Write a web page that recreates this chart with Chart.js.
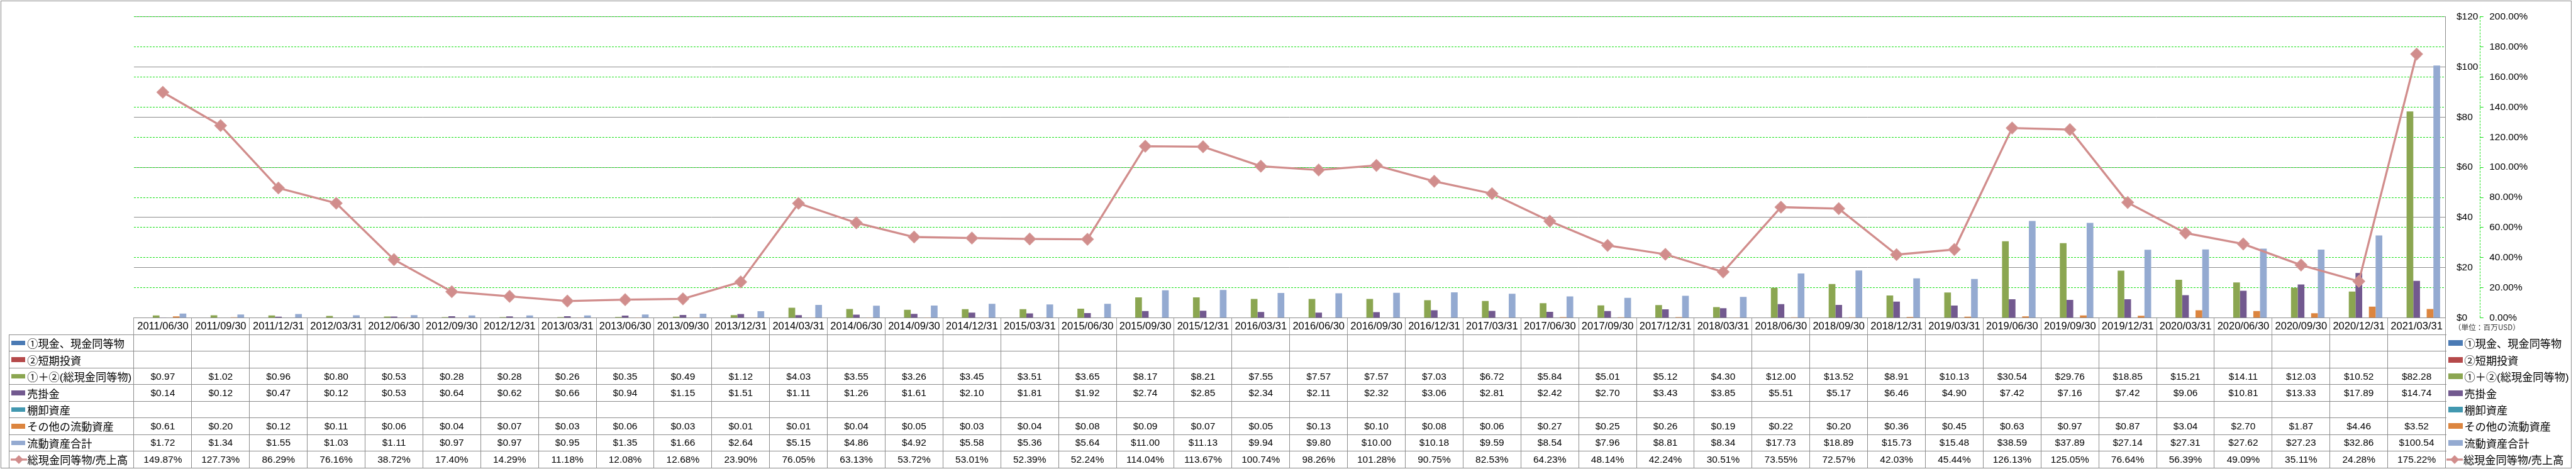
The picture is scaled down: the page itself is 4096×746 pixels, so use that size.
<!DOCTYPE html>
<html><head><meta charset="utf-8">
<script src="https://cdn.jsdelivr.net/npm/chart.js@4.4.0/dist/chart.umd.min.js"></script>
<style>
html,body{margin:0;padding:0;background:#fff;overflow:hidden;}
#wrap{position:relative;width:4096px;height:746px;}
#c{position:absolute;left:0;top:0;}
.ln{position:absolute;background:#8c8c8c;}
.cell{position:absolute;display:flex;align-items:center;justify-content:center;font-family:'Liberation Sans',sans-serif;font-size:15.5px;color:#000;white-space:nowrap;}
.lab{position:absolute;display:flex;align-items:center;font-family:'Liberation Sans','Noto Sans CJK JP',sans-serif;font-size:17.2px;color:#000;white-space:nowrap;}
.sw{display:inline-block;flex:none;}
</style></head><body>
<div id="wrap"><canvas id="c" width="4096" height="746"></canvas><div id="ov"></div></div>
<script>
const categories = ['2011/06/30','2011/09/30','2011/12/31','2012/03/31','2012/06/30','2012/09/30','2012/12/31','2013/03/31','2013/06/30','2013/09/30','2013/12/31','2014/03/31','2014/06/30','2014/09/30','2014/12/31','2015/03/31','2015/06/30','2015/09/30','2015/12/31','2016/03/31','2016/06/30','2016/09/30','2016/12/31','2017/03/31','2017/06/30','2017/09/30','2017/12/31','2018/03/31','2018/06/30','2018/09/30','2018/12/31','2019/03/31','2019/06/30','2019/09/30','2019/12/31','2020/03/31','2020/06/30','2020/09/30','2020/12/31','2021/03/31'];
const cashEq = [null,null,null,null,null,null,null,null,null,null,null,null,null,null,null,null,null,null,null,null,null,null,null,null,null,null,null,null,null,null,null,null,null,null,null,null,null,null,null,null];
const shortInv = [null,null,null,null,null,null,null,null,null,null,null,null,null,null,null,null,null,null,null,null,null,null,null,null,null,null,null,null,null,null,null,null,null,null,null,null,null,null,null,null];
const totalCash = [0.97,1.02,0.96,0.80,0.53,0.28,0.28,0.26,0.35,0.49,1.12,4.03,3.55,3.26,3.45,3.51,3.65,8.17,8.21,7.55,7.57,7.57,7.03,6.72,5.84,5.01,5.12,4.30,12.00,13.52,8.91,10.13,30.54,29.76,18.85,15.21,14.11,12.03,10.52,82.28];
const receivables = [0.14,0.12,0.47,0.12,0.53,0.64,0.62,0.66,0.94,1.15,1.51,1.11,1.26,1.61,2.10,1.81,1.92,2.74,2.85,2.34,2.11,2.32,3.06,2.81,2.42,2.70,3.43,3.85,5.51,5.17,6.46,4.90,7.42,7.16,7.42,9.06,10.81,13.33,17.89,14.74];
const inventory = [null,null,null,null,null,null,null,null,null,null,null,null,null,null,null,null,null,null,null,null,null,null,null,null,null,null,null,null,null,null,null,null,null,null,null,null,null,null,null,null];
const otherCurrent = [0.61,0.20,0.12,0.11,0.06,0.04,0.07,0.03,0.06,0.03,0.01,0.01,0.04,0.05,0.03,0.04,0.08,0.09,0.07,0.05,0.13,0.10,0.08,0.06,0.27,0.25,0.26,0.19,0.22,0.20,0.36,0.45,0.63,0.97,0.87,3.04,2.70,1.87,4.46,3.52];
const currentTotal = [1.72,1.34,1.55,1.03,1.11,0.97,0.97,0.95,1.35,1.66,2.64,5.15,4.86,4.92,5.58,5.36,5.64,11.00,11.13,9.94,9.80,10.00,10.18,9.59,8.54,7.96,8.81,8.34,17.73,18.89,15.73,15.48,38.59,37.89,27.14,27.31,27.62,27.23,32.86,100.54];
const cashToSales = [149.87,127.73,86.29,76.16,38.72,17.40,14.29,11.18,12.08,12.68,23.90,76.05,63.13,53.72,53.01,52.39,52.24,114.04,113.67,100.74,98.26,101.28,90.75,82.53,64.23,48.14,42.24,30.51,73.55,72.57,42.03,45.44,126.13,125.05,76.64,56.39,49.09,35.11,24.28,175.22];
const seriesNames = ['①現金、現金同等物','②短期投資','①＋②(総現金同等物)','売掛金','棚卸資産','その他の流動資産','流動資産合計','総現金同等物/売上高'];
const seriesColors = ['#4a7ab4','#b5494a','#8ba651','#72598f','#4298b0','#dc853f','#94aad1','#d18d8c'];
const dollarTicks = [0,20,40,60,80,100,120];
const pctTicks = [0,20,40,60,80,100,120,140,160,180,200];
const unitLabel = '（単位：百万USD）';

const S = 0.696;
const L = 306*S, R = 5587*S, T = 15*S, B = 726.5*S, ROW0 = 765*S, BOT = 1069*S, TL = 21*S;
const Y1X = 5665*S;
const yW = Y1X - R, y1W = 120;
const padRight = 4096 - R - yW - y1W;
const dateH = ROW0 - B;
const GREEN = '#14e014', GRAY = '#8c8c8c';

const barSeries = [cashEq, shortInv, totalCash, receivables, inventory, otherCurrent, currentTotal];
const datasets = [{
  type:'line', label:seriesNames[7], data:cashToSales, yAxisID:'y1', order:0,
  borderColor:seriesColors[7], backgroundColor:seriesColors[7], borderWidth:3.3,
  pointStyle:'rectRot', pointRadius:9.5, pointHoverRadius:9.5, pointBorderWidth:1.2,
  pointBackgroundColor:seriesColors[7], pointBorderColor:'#d49896', tension:0
}];
barSeries.forEach((d,i)=>datasets.push({
  type:'bar', label:seriesNames[i], data:d, yAxisID:'y', order:1,
  backgroundColor:seriesColors[i], borderWidth:0,
  categoryPercentage:0.812, barPercentage:1.0
}));

const y1Line = {id:'y1line', afterDraw(chart){
  const s = chart.scales.y1, ctx = chart.ctx;
  ctx.save(); ctx.strokeStyle = GREEN; ctx.lineWidth = 1; ctx.setLineDash([3,2]);
  const x = Math.round(s.left)+0.5;
  ctx.beginPath(); ctx.moveTo(x, s.top); ctx.lineTo(x, s.bottom); ctx.stroke(); ctx.restore();
}};

Chart.defaults.font.family = "'Liberation Sans', sans-serif";
const chart = new Chart(document.getElementById('c'), {
  data:{labels:categories, datasets},
  plugins:[y1Line],
  options:{
    responsive:false, animation:false, devicePixelRatio:1,
    layout:{padding:{left:L, top:T, right:padRight, bottom:746-ROW0}},
    plugins:{legend:{display:false}, tooltip:{enabled:false}},
    scales:{
      x:{type:'category', offset:true,
        grid:{offset:true, drawOnChartArea:false, drawTicks:true, tickLength:dateH, color:'#9a9a9a', lineWidth:1},
        border:{display:true, color:GRAY},
        ticks:{autoSkip:false, maxRotation:0, minRotation:0, color:'#000', font:{size:16.5}, padding:-dateH/2-9.9},
        afterFit:(s)=>{s.height = dateH;}
      },
      y:{position:'right', min:0, max:120,
        afterBuildTicks:(s)=>{s.ticks = dollarTicks.map(v=>({value:v}));},
        ticks:{callback:v=>'$'+v, padding:5612*S-R, color:'#000', font:{size:15.5}, crossAlign:'near'},
        grid:{color:GRAY, lineWidth:1, drawTicks:false},
        border:{display:true, color:GRAY},
        afterFit:(s)=>{s.width = yW;}
      },
      y1:{position:'right', min:0, max:200,
        afterBuildTicks:(s)=>{s.ticks = pctTicks.map(v=>({value:v}));},
        ticks:{callback:v=>v.toFixed(2)+'%', padding:5687*S-Y1X-6, color:'#000', font:{size:15.5}, crossAlign:'near'},
        grid:{color:GREEN, lineWidth:1, drawTicks:true, tickLength:6, tickColor:GREEN},
        border:{display:false, dash:[3,2]},
        afterFit:(s)=>{s.width = y1W;}
      }
    }
  }
});

// ---- data table and legend (HTML text) ----
const ov = document.getElementById('ov');
function el(cls, x, y, w, h, html){
  const d = document.createElement('div'); d.className = cls;
  d.style.left = x+'px'; d.style.top = y+'px'; d.style.width = w+'px'; d.style.height = h+'px';
  if (html !== undefined) d.innerHTML = html;
  ov.appendChild(d); return d;
}
function swatch(i, w, h){
  if (i === 7) {
    return '<svg class="sw" width="'+w+'" height="16" viewBox="0 0 '+w+' 16"><line x1="0" y1="8" x2="'+w+'" y2="8" stroke="'+seriesColors[7]+'" stroke-width="3.3"/><polygon points="'+(w/2)+',1 '+(w/2+7)+',8 '+(w/2)+',15 '+(w/2-7)+',8" fill="'+seriesColors[7]+'"/></svg>';
  }
  return '<span class="sw" style="width:'+w+'px;height:'+h+'px;background:'+seriesColors[i]+'"></span>';
}
const ca = chart.chartArea, xs = chart.scales.x;
const n = categories.length, cw = (ca.right-ca.left)/n;
const rowH = (BOT-ROW0)/8;
const rows = [cashEq, shortInv, totalCash, receivables, inventory, otherCurrent, currentTotal, cashToSales];
// lines
for (let k=0;k<=8;k++) el('ln', TL, Math.floor(ROW0+k*rowH), ca.right-TL+1, 1);
el('ln', Math.floor(TL), ROW0, 1, BOT-ROW0);
for (let i=0;i<=n;i++){
  const x = (i<n ? xs.getPixelForValue(i)-cw/2 : xs.getPixelForValue(n-1)+cw/2);
  el('ln', Math.floor(x), ROW0, 1, BOT-ROW0);
}
// label column
rows.forEach((r,k)=>{
  const y = ROW0+k*rowH;
  const sw = k===7 ? swatch(7, 26, 0) : swatch(k, 22.3, 7.5);
  const d = el('lab', TL+ (k===7?2:3.5), y, L-TL-4, rowH, sw+'<span style="margin-left:'+(k===7?1:2.8)+'px">'+seriesNames[k]+'</span>');
  // values
  r.forEach((v,i)=>{
    if (v === null) return;
    const cx = xs.getPixelForValue(i);
    const txt = k===7 ? v.toFixed(2)+'%' : '$'+v.toFixed(2);
    el('cell', cx-cw/2, y, cw, rowH, txt);
  });
});
// right legend
rows.forEach((r,k)=>{
  const y = ROW0+k*rowH;
  const sw = k===7 ? swatch(7, 26, 0) : swatch(k, 22.3, 9);
  el('lab', 5594*S - (k===7?3:0), y, 200, rowH, sw+'<span style="margin-left:'+(k===7?0.5:2.8)+'px">'+seriesNames[k]+'</span>');
});
const u = el('lab', 5606*S, B+2, 200, dateH-4, unitLabel);
u.style.fontFamily = "'Noto Sans CJK JP', sans-serif"; u.style.fontSize = '11.7px'; u.style.color = '#333';
// outer border
const ob = el('ln', 1, 1, 5875*S-1, 1069*S);
ob.style.background = 'transparent'; ob.style.border = '1px solid '+GRAY; ob.style.boxSizing = 'border-box';
</script>
</body></html>
